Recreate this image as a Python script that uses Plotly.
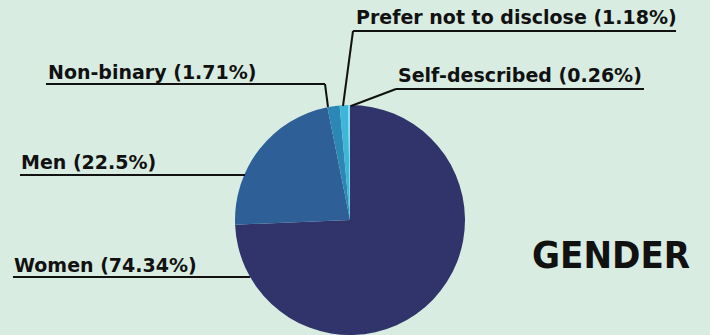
import plotly.graph_objects as go

W, H = 710, 335

genders = ["Women", "Men", "Non-binary", "Prefer not to disclose", "Self-described"]
shares = [74.34, 22.5, 1.71, 1.18, 0.26]
colors = ["#31346b", "#2e5f97", "#2d87b5", "#3db6d8", "#86def0"]

# label placement in pixels: text left x, text middle y, underline y, underline x0, x1, leader end
label_pos = {
    "Prefer not to disclose": (355, 17, 31, 353, 676, (343, 106)),
    "Self-described": (397, 75, 89, 396, 644, (351, 106)),
    "Non-binary": (47, 72, 84, 46, 325, (328, 107)),
    "Men": (20, 162, 175, 20, 245, None),
    "Women": (13, 265, 277, 13, 250, None),
}


def px(x):
    return x / W


def py(y):
    return 1 - y / H


fig = go.Figure(go.Pie(
    labels=genders,
    values=shares,
    sort=False,
    direction="clockwise",
    marker=dict(colors=colors, line=dict(width=0)),
    textinfo="none",
    hoverinfo="label+percent",
    showlegend=False,
    domain=dict(x=[px(235), px(465)], y=[0, py(105)]),
))

shapes = []
annotations = []
for name, val in zip(genders, shares):
    tx, ty, uy, x0, x1, lead = label_pos[name]
    annotations.append(dict(
        x=px(tx), y=py(ty), xref="paper", yref="paper",
        xanchor="left", yanchor="middle", showarrow=False,
        text=f"<b>{name} ({val}%)</b>",
        font=dict(family="DejaVu Sans, sans-serif", size=19, color="#111111"),
        borderpad=0,
    ))
    shapes.append(dict(type="line", xref="paper", yref="paper",
                       x0=px(x0), x1=px(x1), y0=py(uy), y1=py(uy),
                       line=dict(color="#111111", width=2)))
    if lead:
        lx = x1 if name == "Non-binary" else x0
        shapes.append(dict(type="line", xref="paper", yref="paper",
                           x0=px(lx), y0=py(uy), x1=px(lead[0]), y1=py(lead[1]),
                           line=dict(color="#111111", width=2)))

annotations.append(dict(
    x=px(692), y=py(255), xref="paper", yref="paper",
    xanchor="right", yanchor="middle", showarrow=False,
    text="<b>GENDER</b>",
    font=dict(family="DejaVu Sans Condensed, sans-serif", size=38, color="#111111"),
))

fig.update_layout(
    width=W, height=H,
    margin=dict(l=0, r=0, t=0, b=0),
    paper_bgcolor="#d8ece1",
    plot_bgcolor="#d8ece1",
    shapes=shapes,
    annotations=annotations,
)

# the page body has a default margin; drop it so the figure sits at the corner
fig.write_html("out.html", config={"displayModeBar": False},
               post_script="document.body.style.margin='0';document.body.style.background='#d8ece1';")
